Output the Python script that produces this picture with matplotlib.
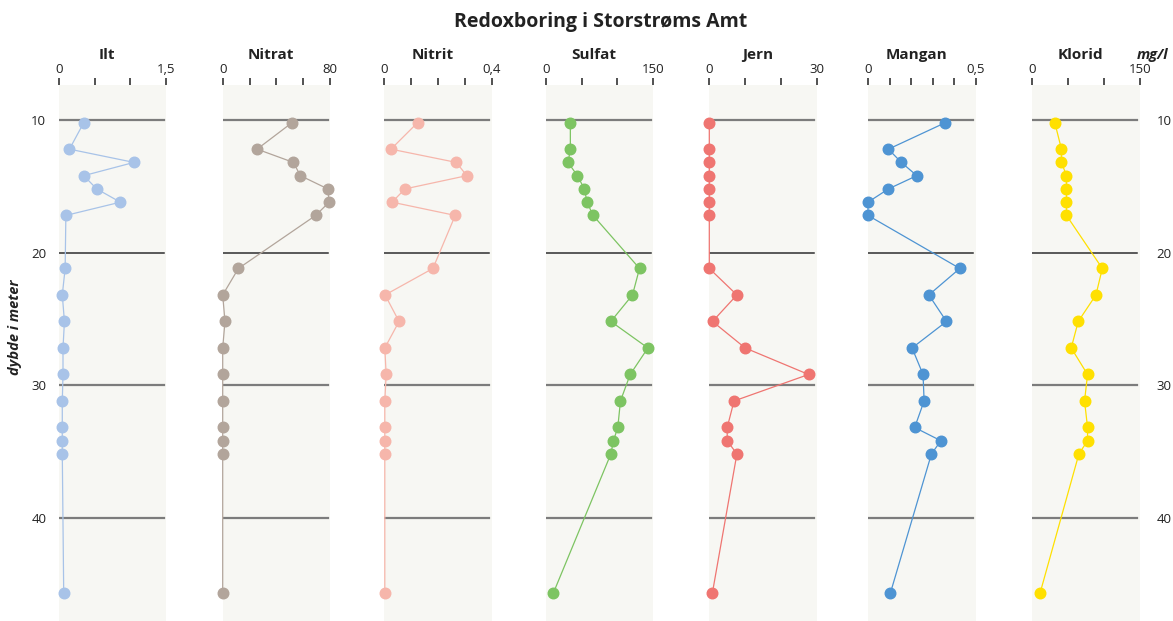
import numpy as np
import matplotlib
matplotlib.use("Agg")
import matplotlib.pyplot as plt

plt.rcParams['font.family'] = ['Open Sans', 'DejaVu Sans']

# Dybder for prøverne (meter under terræn)
dybde = [10.2, 12.2, 13.2, 14.2, 15.2, 16.2, 17.2, 21.2, 23.2, 25.2,
         27.2, 29.2, 31.2, 33.2, 34.2, 35.2, 45.7]

ilt = [0.35, 0.15, 1.05, 0.35, 0.53, 0.86, 0.10, 0.09, 0.05, 0.08,
       0.06, 0.06, 0.05, 0.05, 0.05, 0.05, 0.07]
nitrat = [51.6, 25.6, 52.6, 57.8, 78.2, 79.2, 69.2, 11.7, 0, 1.7,
          0, 0, 0, 0, 0, 0, 0]
nitrit = [0.125, 0.026, 0.269, 0.308, 0.078, 0.030, 0.265, 0.182, 0.004, 0.056,
          0.003, 0.008, 0.003, 0.003, 0.003, 0.003, 0.003]
sulfat = [34.4, 34.4, 31.2, 44.2, 54.0, 57.7, 66.1, 130.9, 121.1, 90.9,
          142.6, 117.9, 104.3, 100.6, 94.5, 90.9, 10.6]
jern = [0, 0, 0, 0, 0, 0, 0, 0, 7.7, 0.9,
        10.0, 27.7, 6.9, 5.0, 5.0, 7.7, 0.85]
mangan = [0.360, 0.095, 0.155, 0.227, 0.095, 0.0, 0.0, 0.427, 0.283, 0.365,
          0.205, 0.256, 0.261, 0.217, 0.339, 0.295, 0.104]
klorid = [31.4, 40.7, 40.7, 47.7, 47.7, 47.7, 47.7, 97.7, 88.8, 64.1,
          54.3, 77.1, 72.9, 77.1, 77.1, 65.0, 10.8]

navne = ["Ilt", "Nitrat", "Nitrit", "Sulfat", "Jern", "Mangan", "Klorid"]
serier = [ilt, nitrat, nitrit, sulfat, jern, mangan, klorid]
maks = [1.5, 80, 0.4, 150, 30, 0.5, 150]
maks_tekst = ["1,5", "80", "0,4", "150", "30", "0,5", "150"]
antal_ticks = [4, 5, 5, 4, 4, 6, 4]
farver = ["#a8c3e8", "#b2a59b", "#f6b6ab", "#7dc462", "#ef7571", "#4e94d3", "#ffe000"]

dybde_ticks = [10, 20, 30, 40]

W, H = 1173, 621
fig = plt.figure(figsize=(W / 100, H / 100), dpi=100)

venstre = [58.7, 222.7, 384.0, 545.7, 709.3, 868.0, 1032.3]
bredde = 107.5
top_px = 85
tekst = "#222222"

for i, (navn, vals, xmax, farve) in enumerate(zip(navne, serier, maks, farver)):
    ax = fig.add_axes([venstre[i] / W, 0, bredde / W, 1 - top_px / H])
    ax.set_facecolor("#f7f7f3")
    for s in ax.spines.values():
        s.set_visible(False)

    for d in dybde_ticks:
        if d == 20:
            ax.axhline(d, xmax=0.975, color="#2e2e2e", lw=1.1, zorder=1)
        else:
            ax.axhline(d, xmax=0.975, color="#7c7c7c", lw=1.6, zorder=1)

    ax.plot(vals, dybde, color=farve, lw=0.9, zorder=2, clip_on=False)
    ax.plot(vals, dybde, "o", color=farve, markersize=7.6, zorder=3,
            clip_on=False)

    ax.set_xlim(0, xmax)
    ax.set_ylim(47.8, 7.36)

    ticks = np.linspace(0, xmax, antal_ticks[i])
    ax.xaxis.tick_top()
    ax.set_xticks(ticks)
    ax.set_xticklabels(["0"] + [""] * (len(ticks) - 2) + [maks_tekst[i]])
    ax.tick_params(axis="x", direction="out", length=5, width=1.2,
                   color="#333333", pad=1.5, labelsize=9.5, labelcolor=tekst)

    ax.set_yticks(dybde_ticks)
    if i == 0:
        ax.tick_params(axis="y", left=True, length=0, pad=9,
                       labelsize=9.5, labelcolor=tekst)
    elif i == len(navne) - 1:
        ax.yaxis.tick_right()
        ax.tick_params(axis="y", right=True, length=0, pad=12,
                       labelsize=9.5, labelcolor=tekst)
    else:
        ax.tick_params(axis="y", left=False, labelleft=False)

    ax.text(0.45, 1 + 30 / (H - top_px), navn, transform=ax.transAxes,
            ha="center", va="center", fontsize=11, fontweight="bold",
            color=tekst)

fig.text(15 / W, 1 - 327 / H, "dybde i meter", rotation=90, ha="center",
         va="center", fontsize=10.5, fontweight="bold", style="italic",
         color=tekst)
fig.text(1153 / W, 1 - 55 / H, "mg/l", ha="center", va="center",
         fontsize=10.5, fontweight="bold", style="italic", color=tekst)
fig.text(601 / W, 1 - 22 / H, "Redoxboring i Storstrøms Amt", ha="center",
         va="center", fontsize=14, fontweight="bold", color=tekst)

fig.savefig("out.png", dpi=100)
